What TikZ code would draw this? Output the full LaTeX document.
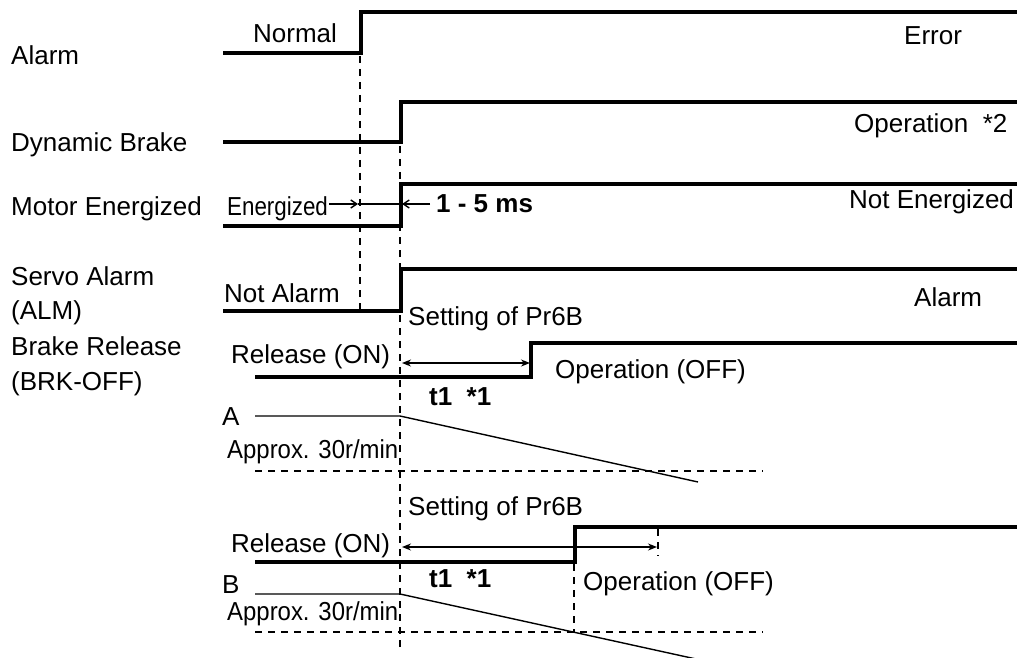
\documentclass[tikz,border=0pt]{standalone}
\usepackage{fontspec}
\setmainfont{Liberation Sans}
\usetikzlibrary{arrows.meta,positioning}

\begin{document}
\begin{tikzpicture}[
      x=1pt,y=-1pt,
      lbl/.style={anchor=base west,inner sep=0pt,font=\fontsize{26}{31}\selectfont},
      boldlbl/.style={lbl,font=\fontsize{26}{31}\selectfont\bfseries},
      level/.style={line width=4pt,line join=miter},
      thinline/.style={line width=1.4pt},
      guide/.style={line width=1.3pt,dash pattern=on 7pt off 6pt},
      tip/.style={thinline,-{Straight Barb[length=6pt,width=8pt]}},
      span/.style={thinline,{Stealth[length=9pt,width=7pt]}-{Stealth[length=9pt,width=7pt]}}
    ]
      \useasboundingbox (0,0) rectangle (1018,658);

      % signal names
      \node[lbl] (nalarm) at (11,65) {Alarm};
      \node[lbl] (ndb) at (11,152) {Dynamic Brake};
      \node[lbl] (nmotor) at (11,215) {Motor Energized};
      \node[lbl] (nservo) at (11,285) {Servo Alarm};
      \node[lbl] (nalm) at (11,319) {(ALM)};
      \node[lbl] (nbrake) at (11,355) {Brake Release};
      \node[lbl] (nbrk) at (11,390) {(BRK-OFF)};

      % waveforms
      \draw[level] (223,53) -- (361,53) -- (361,12) -- (1017,12);
      \draw[level] (223,142) -- (401,142) -- (401,102) -- (1017,102);
      \draw[level] (223,226) -- (401,226) -- (401,184) -- (1017,184);
      \draw[level] (223,311) -- (401,311) -- (401,269) -- (1017,269);
      \draw[level] (255,377) -- (531,377) -- (531,343) -- (1017,343);
      \draw[level] (255,562) -- (575,562) -- (575,527) -- (1017,527);

      % motor speed
      \draw[thinline] (255,416) -- (400,416) -- (698,482);
      \draw[thinline] (255,594) -- (400,594) -- (696,659);

      % guide lines
      \draw[guide] (360,56) -- (360,311);
      \draw[guide] (400,146) -- (400,650);
      \draw[guide] (574,564) -- (574,632);
      \draw[guide] (658,529) -- (658,556);
      \draw[guide] (255,471) -- (763,471);
      \draw[guide] (255,632) -- (763,632);

      % state texts
      \node[lbl] (normal) at (253,43) {Normal};
      \node[lbl] (error) at (904,45) {Error};
      \node[lbl] (dbop) at (854,133) {Operation\ \ *2};
      \node[lbl] (energ) at (227,215) {\scalebox{0.86}[1]{Energized}};
      \node[boldlbl] (delay) at (436,212) {1 - 5 ms};
      \node[lbl] (notenerg) at (849,208) {Not Energized};
      \node[lbl] (notalarm) at (224,302) {Not Alarm};
      \node[lbl] (alarm) at (914,306) {Alarm};

      \node[lbl] (settA) at (408,325) {Setting of Pr6B};
      \node[lbl] (relA) at (231,363) {Release (ON)};
      \node[lbl] (opA) at (555,378) {Operation (OFF)};
      \node[boldlbl] (tA) at (429,405) {t1\ \ *1};
      \node[lbl] (speedA) at (222,425) {A};
      \node[lbl] (approxA) at (227,458) {\scalebox{0.92}[1]{Approx. 30r/min}};

      \node[lbl] (settB) at (408,515) {Setting of Pr6B};
      \node[lbl] (relB) at (231,552) {Release (ON)};
      \node[lbl] (opB) at (583,590) {Operation (OFF)};
      \node[boldlbl] (tB) at (429,587) {t1\ \ *1};
      \node[lbl] (speedB) at (222,593) {B};
      \node[lbl] (approxB) at (227,620) {\scalebox{0.92}[1]{Approx. 30r/min}};

      % timing arrows
      \coordinate (enA) at (329,204);
      \coordinate (enB) at (358,204);
      \coordinate (enC) at (400,204);
      \coordinate (msA) at (430,204);
      \coordinate (msB) at (402,204);
      \draw[tip] (enA) -- (enB);
      \draw[thinline] (enB) -- (enC);
      \draw[tip] (msA) -- (msB);

      \coordinate (t1Astart) at (402,363);
      \coordinate (t1Aend) at (530,363);
      \coordinate (t1Bstart) at (402,547);
      \coordinate (t1Bend) at (657,547);
      \draw[span] (t1Astart) -- (t1Aend);
      \draw[span] (t1Bstart) -- (t1Bend);
    \end{tikzpicture}
\end{document}
